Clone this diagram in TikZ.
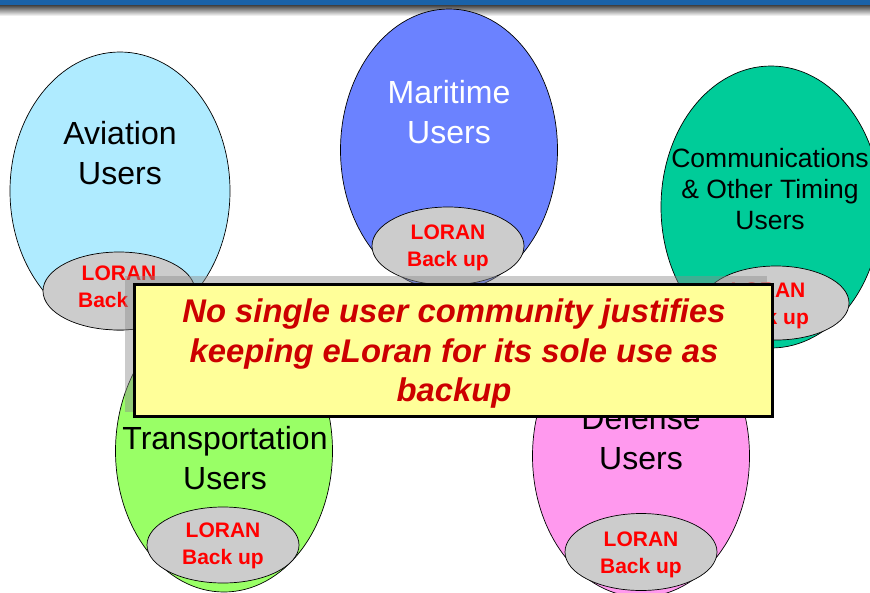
\documentclass[tikz,border=0pt]{standalone}
\usepackage{fontspec}
\setmainfont{Liberation Sans}
\usetikzlibrary{shapes.geometric}
\definecolor{avic}{HTML}{AFEBFF}
\definecolor{marc}{HTML}{6B82FF}
\definecolor{comc}{HTML}{00CC99}
\definecolor{trac}{HTML}{99FF66}
\definecolor{defc}{HTML}{FF99EE}
\definecolor{lorc}{HTML}{CCCCCC}
\definecolor{boxc}{HTML}{FFFF99}
\definecolor{barc}{HTML}{1A62A8}
\definecolor{darkred}{HTML}{CC0000}
\tikzset{
  userell/.style={ellipse, draw=black, line width=0.7pt, inner sep=0pt, minimum width=217pt, minimum height=282pt},
  lorell/.style={ellipse, draw=black, line width=0.7pt, fill=lorc, inner sep=0pt, minimum width=152pt, minimum height=78pt},
  usertext/.style={align=center, inner sep=0pt, font=\fontsize{32}{40}\selectfont},
  lortext/.style={align=center, inner sep=0pt, text=red, font=\fontsize{21}{27}\selectfont\bfseries},
}
\begin{document}
\begin{tikzpicture}[x=1pt,y=-1pt]
\useasboundingbox (0,0) rectangle (870,592);
\clip (0,0) rectangle (870,592);
% top bar
\fill[barc] (0,0) rectangle (870,5);
\shade[top color=black!75, bottom color=white] (0,5) rectangle (870,16);
% Aviation
\node[userell, fill=avic, minimum width=220pt, minimum height=278pt] (avi) at (120,191) {};
\node[usertext] (avit) at (120,153) {Aviation\\Users};
\node[lorell] (avil) at (119,291) {};
\node[lortext] (avilt) at (119,289) {LORAN\\Back up};
% Maritime
\node[userell, fill=marc] (mar) at (449,150) {};
\node[usertext, text=white] (mart) at (449,112) {Maritime\\Users};
\node[lorell] (marl) at (448,246) {};
\node[lortext] (marlt) at (448,248) {LORAN\\Back up};
% Communications
\node[userell, fill=comc, minimum width=220pt] (com) at (771,207) {};
\node[usertext, font=\fontsize{26.5}{31}\selectfont] (comt) at (770,189) {Communications\\\& Other Timing\\Users};
\node[lorell, minimum width=146pt, minimum height=74pt] (coml) at (776,303) {};
\node[lortext] (comlt) at (768,306) {LORAN\\Back up};
% Transportation
\node[userell, fill=trac] (tra) at (224,451) {};
\node[usertext] (trat) at (225,458) {Transportation\\Users};
\node[lorell, minimum height=76pt] (tral) at (223,545) {};
\node[lortext] (tralt) at (223,546) {LORAN\\Back up};
% Defense
\node[userell, fill=defc] (def) at (641,456) {};
\node[usertext] (deft) at (641,438) {Defense\\Users};
\node[lorell, minimum height=77pt] (defl) at (641,552) {};
\node[lortext] (deflt) at (641,555) {LORAN\\Back up};
% message box
\fill[black!45, opacity=0.45] (125,276) rectangle (767,412);
\node[draw=black, line width=3pt, fill=boxc, minimum width=638pt, minimum height=132pt, inner sep=0pt] (msg) at (453,350) {};
\node[align=center, inner sep=0pt, text=darkred, font=\fontsize{32.8}{39.5}\selectfont\bfseries\itshape] (msgt) at (454,354) {No single user community justifies\\keeping eLoran for its sole use as\\backup};
\end{tikzpicture}
\end{document}
